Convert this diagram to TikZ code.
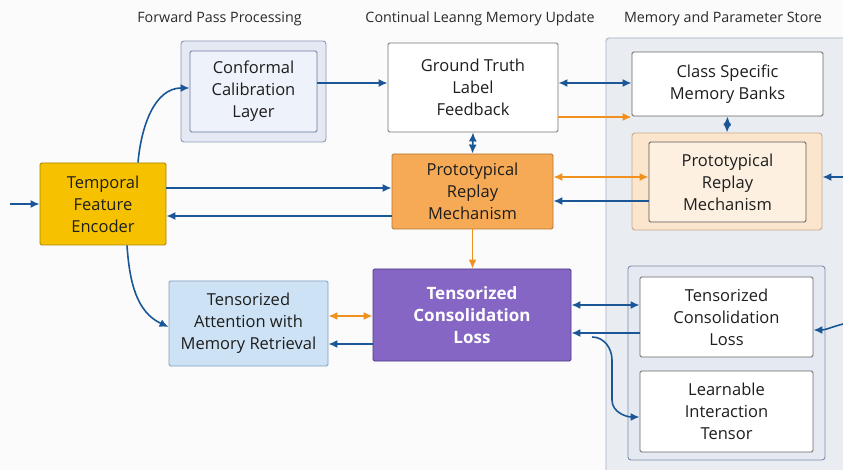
\documentclass[tikz,border=0pt]{standalone}
\usepackage{fontspec}
\setmainfont{Open Sans}
\usetikzlibrary{arrows.meta}
\definecolor{barrow}{HTML}{1B5797}
\definecolor{oarrow}{HTML}{F0901E}
\definecolor{tfefill}{HTML}{F6C200}
\definecolor{tfedraw}{HTML}{A88300}
\definecolor{profill}{HTML}{F7AA55}
\definecolor{prodraw}{HTML}{B07530}
\definecolor{purfill}{HTML}{8566C4}
\definecolor{purdraw}{HTML}{4B3A80}
\definecolor{attfill}{HTML}{CDE2F4}
\definecolor{attdraw}{HTML}{7F9EC0}
\definecolor{cofill}{HTML}{E4E9F3}
\definecolor{codraw}{HTML}{8A98B8}
\definecolor{cifill}{HTML}{EEF2FA}
\definecolor{cidraw}{HTML}{6A7AA0}
\definecolor{stfill}{HTML}{E9EDF2}
\definecolor{stdraw}{HTML}{A7B1C0}
\definecolor{pefill}{HTML}{FBE5CC}
\definecolor{pedraw}{HTML}{C9AB8A}
\definecolor{pifill}{HTML}{FDF0E1}
\definecolor{lpfill}{HTML}{E5EAF2}
\definecolor{lpdraw}{HTML}{7D8CA8}
\definecolor{txt}{HTML}{1E1E1E}
\definecolor{head}{HTML}{2A2A2A}
\definecolor{bg}{HTML}{FBFBFB}
\tikzset{
  box/.style={draw, rounded corners=1.5pt, line width=0.9pt, align=center, inner sep=0pt,
    font=\fontsize{16.5}{22}\selectfont, text=txt},
  panel/.style={draw, rounded corners=3pt, line width=0.9pt, inner sep=0pt},
  heading/.style={font=\fontsize{14.3}{17}\selectfont, text=head},
  ba/.style={draw=barrow, line width=1.6pt, -{Latex[length=9pt,width=8pt]}},
  bb/.style={draw=barrow, line width=1.6pt, {Latex[length=9pt,width=8pt]}-{Latex[length=9pt,width=8pt]}},
  oa/.style={draw=oarrow, line width=1.6pt, -{Latex[length=9pt,width=8pt]}},
  ob/.style={draw=oarrow, line width=1.6pt, {Latex[length=9pt,width=8pt]}-{Latex[length=9pt,width=8pt]}},
}
\begin{document}
\begin{tikzpicture}[x=1pt,y=-1pt]
\useasboundingbox (0,0) rectangle (843,470);
\fill[bg] (0,0) rectangle (843,470);
\clip (0,0) rectangle (843,470);

% headings
\node[heading] (h1) at (219.5,19) {Forward Pass Processing};
\node[heading] (h2) at (480,19) {Continual Leanng Memory Update};
\node[heading] (h3) at (723,19) {Memory and Parameter Store};

% store panel
\node[panel, fill=stfill, draw=stdraw, minimum width=260pt, minimum height=450pt] (store) at (736,263) {};

% conformal
\node[panel, fill=cofill, draw=codraw, minimum width=145pt, minimum height=101pt] (confo) at (253.5,91.5) {};
\node[box, fill=cifill, draw=cidraw, minimum width=127pt, minimum height=81pt] (confi) at (253.5,91.5) {Conformal\\Calibration\\Layer};

% temporal feature encoder
\node[box, fill=tfefill, draw=tfedraw, minimum width=126pt, minimum height=82pt] (tfe) at (103,204) {Temporal\\Feature\\Encoder};
\coordinate (in) at (10,204);

% ground truth
\node[box, fill=white, draw=black!55, minimum width=170pt, minimum height=89pt] (gt) at (473,87.5) {Ground Truth\\Label\\Feedback};

% prototypical (orange)
\node[box, fill=profill, draw=prodraw, minimum width=161pt, minimum height=75pt] (pro) at (472.5,191.5) {Prototypical\\Replay\\Mechanism};

% class specific
\node[box, fill=white, draw=black!60, minimum width=191pt, minimum height=64pt] (csmb) at (727.5,84) {Class Specific\\Memory Banks};

% peach panel
\node[panel, fill=pefill, draw=pedraw, minimum width=190pt, minimum height=97pt] (peo) at (727,181.5) {};
\node[box, fill=pifill, draw=black!65, minimum width=157pt, minimum height=80pt] (pei) at (727.5,182) {Prototypical\\Replay\\Mechanism};

% attention
\node[box, fill=attfill, draw=attdraw, minimum width=159pt, minimum height=85pt] (att) at (248.5,323.5) {Tensorized\\Attention with\\Memory Retrieval};

% purple
\node[box, fill=purfill, draw=purdraw, minimum width=198pt, minimum height=92pt, text=white, font=\fontsize{17}{22}\selectfont\bfseries] (pur) at (472,315) {Tensorized\\Consolidation\\Loss};

% lower panel
\node[panel, fill=lpfill, draw=lpdraw, minimum width=197pt, minimum height=194pt] (lp) at (726.5,363) {};
\node[box, fill=white, draw=black!60, minimum width=173pt, minimum height=80pt] (tclw) at (726.5,317) {Tensorized\\Consolidation\\Loss};
\node[box, fill=white, draw=black!60, minimum width=173pt, minimum height=81pt] (lit) at (726.5,411.5) {Learnable\\Interaction\\Tensor};

% coordinates for free ends
\coordinate (r1) at (843,177);
\coordinate (r2) at (843,324);
\coordinate (br) at (592,337);

% arrows
\draw[ba] (in) -- (tfe.west);
\draw[ba] (tfe.north -| 138,0) to[out=85,in=180] (confi.west |- 0,88);
\draw[ba] (confi.east |- 0,83) -- (gt.west |- 0,83);
\draw[ba] (tfe.east |- 0,188) -- (pro.west |- 0,188);
\draw[ba] (pro.west |- 0,216) -- (tfe.east |- 0,216);
\draw[bb] (gt.east |- 0,83) -- (csmb.west |- 0,83);
\draw[oa] (gt.east |- 0,117) -- (csmb.west |- 0,117);
\draw[bb] (gt.south) -- (pro.north);
\draw[bb] (csmb.south) -- (peo.north);
\draw[ob] (pro.east |- 0,177) -- (pei.west |- 0,177);
\draw[ba] (pei.west |- 0,201) -- (pro.east |- 0,201);
\draw[ba] (r1) -- (peo.east |- r1);
\draw[oa] (pro.south) -- (pur.north -| pro.south);
\draw[ba] (tfe.south -| 127,0) to[out=-86,in=155] (att.west |- 0,327);
\draw[ob] (att.east |- 0,316) -- (pur.west |- 0,316);
\draw[ba] (pur.west |- 0,344) -- (att.east |- 0,344);
\draw[bb] (pur.east |- 0,305) -- (tclw.west |- 0,305);
\draw[ba] (tclw.west |- 0,333) -- (pur.east |- 0,333);
\draw[ba] (br) to[out=0,in=90] (612,360) -- (612,400) to[out=-90,in=180] (lit.west |- 0,417);
\draw[ba] (r2) to[out=195,in=0] (tclw.east |- 0,330);
\end{tikzpicture}
\end{document}
